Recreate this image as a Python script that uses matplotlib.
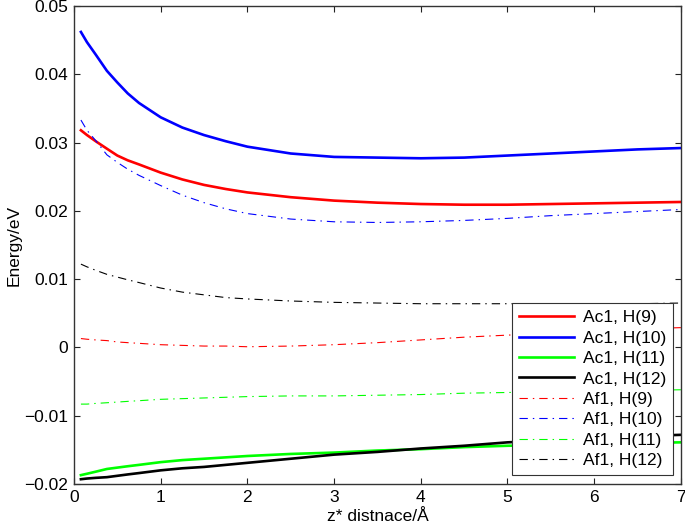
import matplotlib
matplotlib.use("Agg")
import matplotlib.pyplot as plt

plt.rcParams['font.family'] = ['Liberation Sans', 'DejaVu Sans']

x = [0.08, 0.15, 0.25, 0.38, 0.5, 0.62, 0.75, 1, 1.25, 1.5, 1.75, 2, 2.5, 3, 3.5, 4, 4.5, 5, 5.5, 6, 6.5, 7]

ac1_h9 = [0.0318, 0.0311, 0.0302, 0.0291, 0.0281, 0.0274, 0.0268, 0.0256, 0.0246, 0.0238, 0.0232, 0.0227,
          0.0220, 0.0215, 0.0212, 0.0210, 0.0209, 0.0209, 0.0210, 0.0211, 0.0212, 0.0213]
ac1_h10 = [0.0462, 0.0447, 0.0429, 0.0405, 0.0388, 0.0372, 0.0358, 0.0337, 0.0322, 0.0311, 0.0302, 0.0294,
           0.0284, 0.0279, 0.0278, 0.0277, 0.0278, 0.0281, 0.0284, 0.0287, 0.0290, 0.0292]
ac1_h11 = [-0.0187, -0.0185, -0.0182, -0.0178, -0.0176, -0.0174, -0.0172, -0.0168, -0.0165, -0.0163, -0.0161,
           -0.0159, -0.0156, -0.0154, -0.0151, -0.0149, -0.0146, -0.0144, -0.0143, -0.0142, -0.0140, -0.0139]
ac1_h12 = [-0.0193, -0.0192, -0.0191, -0.0190, -0.0188, -0.0186, -0.0184, -0.0180, -0.0177, -0.0175, -0.0172,
           -0.0169, -0.0163, -0.0157, -0.0153, -0.0148, -0.0144, -0.0139, -0.0136, -0.0133, -0.0130, -0.0128]
af1_h9 = [0.0013, 0.0012, 0.0011, 0.0010, 0.0008, 0.0007, 0.0006, 0.0004, 0.0003, 0.0002, 0.0002, 0.0001,
          0.0002, 0.0004, 0.0007, 0.0011, 0.0015, 0.0018, 0.0021, 0.0024, 0.0027, 0.0029]
af1_h10 = [0.0333, 0.0318, 0.0303, 0.0282, 0.0271, 0.0261, 0.0252, 0.0237, 0.0223, 0.0212, 0.0203, 0.0196,
           0.0188, 0.0184, 0.0183, 0.0184, 0.0186, 0.0189, 0.0193, 0.0196, 0.0199, 0.0202]
af1_h11 = [-0.0083, -0.0083, -0.0082, -0.0081, -0.0080, -0.0079, -0.0078, -0.0076, -0.0075, -0.0074, -0.0073,
           -0.0072, -0.0071, -0.0071, -0.0070, -0.0069, -0.0067, -0.0066, -0.0065, -0.0064, -0.0063, -0.0062]
af1_h12 = [0.0122, 0.0118, 0.0113, 0.0107, 0.0103, 0.0099, 0.0095, 0.0087, 0.0081, 0.0077, 0.0073, 0.0071,
           0.0068, 0.0066, 0.0065, 0.0064, 0.0064, 0.0064, 0.0064, 0.0064, 0.0064, 0.0065]

labels = ['Ac1, H(9)', 'Ac1, H(10)', 'Ac1, H(11)', 'Ac1, H(12)',
          'Af1, H(9)', 'Af1, H(10)', 'Af1, H(11)', 'Af1, H(12)']
series = [ac1_h9, ac1_h10, ac1_h11, ac1_h12, af1_h9, af1_h10, af1_h11, af1_h12]
colors = ['#ff0000', '#0000ff', '#00ff00', '#000000'] * 2

fig = plt.figure(figsize=(6.85, 5.27), dpi=100)
ax = fig.add_axes([0.108, 0.0816, 0.886, 0.907])

for i, (y, lab, c) in enumerate(zip(series, labels, colors)):
    if i < 4:
        ax.plot(x, y, color=c, lw=1.9, label=lab, solid_joinstyle='round')
    else:
        ax.plot(x, y, color=c, lw=0.8, label=lab, dashes=[7.5, 4.5, 1.3, 4.5])

ax.set_xlim(0, 7)
ax.set_ylim(-0.02, 0.05)
ax.set_xticks(range(0, 8))
ax.set_yticks([-0.02, -0.01, 0, 0.01, 0.02, 0.03, 0.04, 0.05])
ax.set_yticklabels(['\u22120.02', '\u22120.01', '0', '0.01', '0.02', '0.03', '0.04', '0.05'])
ax.tick_params(direction='in', top=True, right=True, labelsize=12.5, length=4, width=0.8,
               color='#222222', pad=4)
for s in ax.spines.values():
    s.set_color('#333333')
    s.set_linewidth(1.0)

ax.set_xlabel('z* distnace/Å', fontsize=12.5, labelpad=3)
ax.set_ylabel('Energy/eV', fontsize=12.5, labelpad=2)

leg = ax.legend(loc='lower right', bbox_to_anchor=(0.987, 0.019), borderaxespad=0,
                fontsize=12.5, frameon=True, fancybox=False,
                edgecolor='#333333', framealpha=1,
                handlelength=3.2, labelspacing=0.3, borderpad=0.4, handletextpad=0.5)
leg.get_frame().set_linewidth(0.8)

fig.savefig('out.png', dpi=100)
